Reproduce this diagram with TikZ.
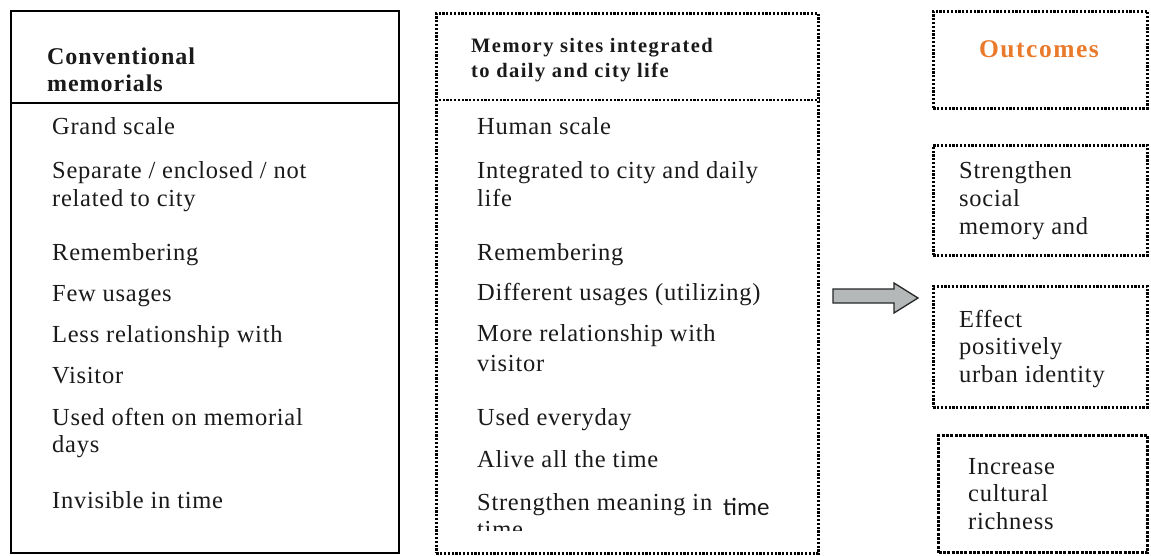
\documentclass[tikz,border=0pt]{standalone}
\usepackage{fontspec}
\setmainfont{Liberation Serif}
\newfontfamily\bodyf[LetterSpace=3]{Liberation Serif}
\newfontfamily\headf[LetterSpace=4]{Liberation Serif}
\newfontfamily\midheadf[LetterSpace=7]{Liberation Serif}
\newfontfamily\outf[LetterSpace=6]{Liberation Serif}
\newfontfamily\calif{Carlito}
\definecolor{txt}{HTML}{1A1A1A}
\definecolor{orng}{HTML}{E97A2B}
\definecolor{arrowgray}{HTML}{B4B8B8}
\tikzset{
  solidbox/.style={draw=black, line width=2.4pt, inner sep=0, anchor=north west},
  solidline/.style={draw=black, line width=2.4pt},
  dotbox/.style={draw=black, line width=2.6pt, dash pattern=on 2.2pt off 1.6pt, inner sep=0, anchor=north west},
  dotline/.style={draw=black, line width=2.6pt, dash pattern=on 2.2pt off 1.6pt},
  thickdot/.style={draw=black, line width=3.2pt, dash pattern=on 3pt off 1.3pt, inner sep=0, anchor=north west},
  item/.style={anchor=base west, inner sep=0, text=txt, font=\bodyf\fontsize{24.5}{27.5}\selectfont},
  bighead/.style={anchor=base west, inner sep=0, text=txt, font=\headf\bfseries\fontsize{24}{27}\selectfont},
  midhead/.style={anchor=base west, inner sep=0, text=txt, font=\midheadf\bfseries\fontsize{20.5}{25}\selectfont},
}
\begin{document}
\begin{tikzpicture}[x=1pt,y=-1pt]
\useasboundingbox (0,0) rectangle (1151,556);
% left column
\node[solidbox, minimum width=388pt, minimum height=542pt] (lbox) at (10,10) {};
\draw[solidline] ([yshift=-93pt]lbox.north west) -- ([yshift=-93pt]lbox.north east);
\node[bighead] (lh) at (47,65) {\vtop{\hbox{Conventional}\hbox{memorials}}};
\node[item] (l1) at (52,135) {Grand scale};
\node[item] (l2) at (52,179) {\vtop{\hbox{Separate / enclosed / not}\hbox{related to city}}};
\node[item] (l3) at (52,260) {Remembering};
\node[item] (l4) at (52,301) {Few usages};
\node[item] (l5) at (52,342) {Less relationship with};
\node[item] (l6) at (52,383) {Visitor};
\node[item] (l7) at (52,425) {\vtop{\hbox{Used often on memorial}\hbox{days}}};
\node[item] (l8) at (52,508) {Invisible in time};
% middle column
\node[dotbox, minimum width=382pt, minimum height=540pt] (mbox) at (435,12) {};
\draw[dotline] ([yshift=-88pt]mbox.north west) -- ([yshift=-88pt]mbox.north east);
\node[midhead] (mh) at (471,53) {\vtop{\hbox{Memory sites integrated}\hbox{to daily and city life}}};
\node[item] (m1) at (477,135) {Human scale};
\node[item] (m2) at (477,179) {\vtop{\hbox{Integrated to city and daily}\hbox{life}}};
\node[item] (m3) at (477,260) {Remembering};
\node[item] (m4) at (477,300) {Different usages (utilizing)};
\node[item] (m5) at (477,341) {\vtop{\hbox{More relationship with}\vskip2.5pt\hbox{visitor}}};
\node[item] (m6) at (477,425) {Used everyday};
\node[item] (m7) at (477,467) {Alive all the time};
\node[item] (m8) at (477,510) {Strengthen meaning in};
\node[anchor=base west, inner sep=0, text=txt, font=\calif\fontsize{25}{28}\selectfont] (m8b) at (723,515) {time};
\begin{scope}
  \clip (435,100) rectangle (817,530);
  \node[item] (m9) at (477,537) {time};
\end{scope}
% arrow
\draw[fill=arrowgray, draw=black!85, line width=1.3pt, line join=miter]
  (833,289) -- (894,289) -- (894,283) -- (918,298) -- (894,313) -- (894,303) -- (833,303) -- cycle;
% right column
\node[dotbox, minimum width=214pt, minimum height=97pt] (ohead) at (932,10) {};
\node[anchor=base, inner sep=0, text=orng, font=\outf\bfseries\fontsize{25.5}{28}\selectfont] (oh) at (1039,58) {Outcomes};
\node[dotbox, minimum width=214pt, minimum height=110pt] (o1box) at (932,144) {};
\node[item] (o1) at (959,179) {\vtop{\hbox{Strengthen}\hbox{social}\hbox{memory and}}};
\node[dotbox, minimum width=214pt, minimum height=121pt] (o2box) at (932,285) {};
\node[item] (o2) at (959,327) {\vtop{\hbox{Effect}\hbox{positively}\hbox{urban identity}}};
\node[thickdot, minimum width=209pt, minimum height=117pt] (o3box) at (937,434) {};
\node[item] (o3) at (968,474) {\vtop{\hbox{Increase}\hbox{cultural}\hbox{richness}}};
\end{tikzpicture}
\end{document}
